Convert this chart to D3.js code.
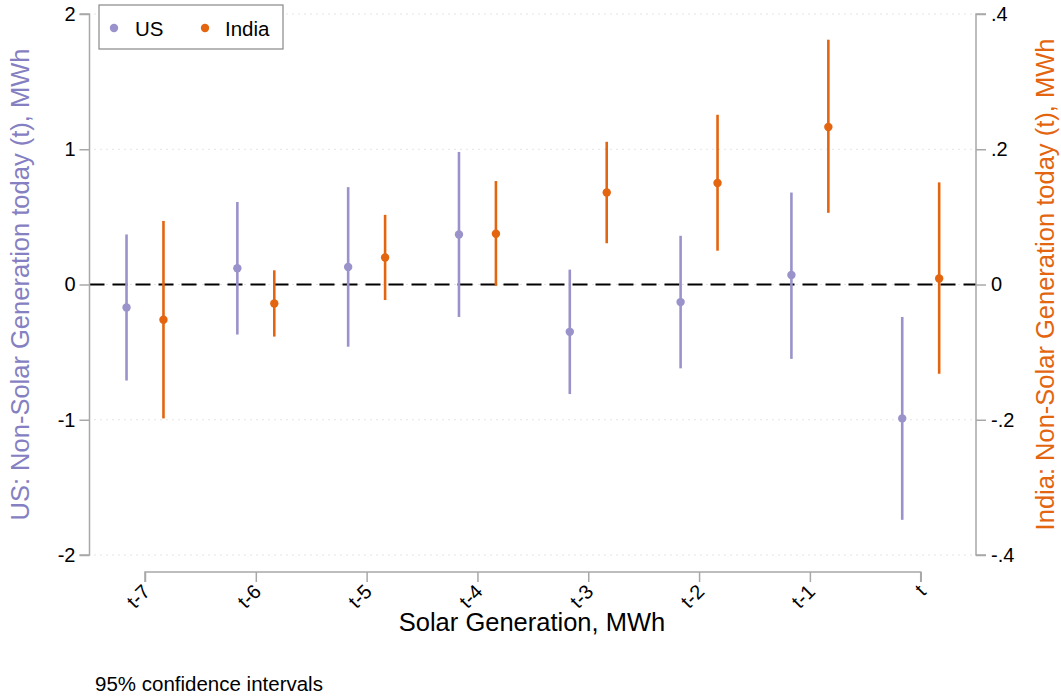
<!DOCTYPE html>
<html>
<head>
<meta charset="utf-8">
<script src="https://cdn.jsdelivr.net/npm/d3@7"></script>
<style>
  html, body { margin: 0; padding: 0; background: #fff; }
  svg { display: block; font-family: "Liberation Sans", Arial, Helvetica, sans-serif; }
</style>
</head>
<body>
<svg id="chart" width="1061" height="696"></svg>
<script>
// ---- data ----
const categories = ["t-7", "t-6", "t-5", "t-4", "t-3", "t-2", "t-1", "t"];
const usEstimate = [-0.17, 0.12, 0.13, 0.37, -0.35, -0.13, 0.07, -0.99];
const usLower    = [-0.71, -0.37, -0.46, -0.24, -0.81, -0.62, -0.55, -1.74];
const usUpper    = [0.37, 0.61, 0.72, 0.98, 0.11, 0.36, 0.68, -0.24];
const indiaEstimate = [-0.052, -0.028, 0.040, 0.075, 0.136, 0.150, 0.233, 0.009];
const indiaLower    = [-0.198, -0.077, -0.023, -0.002, 0.061, 0.050, 0.106, -0.132];
const indiaUpper    = [0.094, 0.021, 0.103, 0.153, 0.211, 0.251, 0.362, 0.151];
const leftTicks  = [2, 1, 0, -1, -2];
const leftTickLabels = ["2", "1", "0", "-1", "-2"];
const rightTicks = [0.4, 0.2, 0, -0.2, -0.4];
const rightTickLabels = [".4", ".2", "0", "-.2", "-.4"];

const usColor = "#9a93cb";
const usTitleColor = "#8580c2";
const indiaColor = "#e36510";
const axisColor = "#a8a8a8";

const svg = d3.select("#chart");

const plotLeft = 89.5, plotRight = 976, plotTop = 14, plotBottom = 555;
const yL = d3.scaleLinear().domain([-2, 2]).range([plotBottom, plotTop]);
const yR = d3.scaleLinear().domain([-0.4, 0.4]).range([plotBottom, plotTop]);
const x = d3.scalePoint().domain(categories).range([145, 920.7]);
const off = x.step() / 6;

// grid lines (dotted)
svg.append("g").selectAll("line").data(leftTicks).join("line")
  .attr("x1", plotLeft + 5).attr("x2", plotRight)
  .attr("y1", d => yL(d)).attr("y2", d => yL(d))
  .attr("stroke", "#c8c8c8").attr("stroke-width", 1)
  .attr("stroke-dasharray", "1,5");

// zero reference line
svg.append("line")
  .attr("x1", plotLeft).attr("x2", plotRight)
  .attr("y1", yL(0)).attr("y2", yL(0))
  .attr("stroke", "#000").attr("stroke-width", 2)
  .attr("stroke-dasharray", "15,8");

// left axis
const leftAxis = svg.append("g").attr("transform", `translate(${plotLeft},0)`)
  .call(d3.axisLeft(yL).tickValues(leftTicks).tickSize(10).tickPadding(4)
    .tickFormat((d, i) => leftTickLabels[i]));
// right axis
const rightAxis = svg.append("g").attr("transform", `translate(${plotRight},0)`)
  .call(d3.axisRight(yR).tickValues(rightTicks).tickSize(10).tickPadding(5)
    .tickFormat((d, i) => rightTickLabels[i]));
// bottom axis
const bottomAxis = svg.append("g").attr("transform", `translate(0,572)`)
  .call(d3.axisBottom(x).tickSize(10).tickPadding(4));

[leftAxis, rightAxis, bottomAxis].forEach(g => {
  g.attr("font-size", 20).attr("font-family", "Liberation Sans, Arial, sans-serif");
  g.select(".domain").attr("stroke", axisColor).attr("stroke-width", 1.5);
  g.selectAll(".tick line").attr("stroke", axisColor).attr("stroke-width", 1.5);
  g.selectAll(".tick text").attr("fill", "#000").attr("font-size", 20);
});
leftAxis.select(".domain").attr("d", `M-10,${plotTop}H0V${plotBottom}H-10`);
rightAxis.select(".domain").attr("d", `M10,${plotTop}H0V${plotBottom}H10`);
bottomAxis.select(".domain").attr("d", `M${x(categories[0])},10V0H${x(categories[categories.length-1])}V10`);
bottomAxis.selectAll(".tick text")
  .attr("text-anchor", "end")
  .attr("dy", "0.35em")
  .attr("transform", "translate(1,16) rotate(-45)")
  .attr("y", 0).attr("x", 0);

// CI lines and points
const us = categories.map((c, i) => ({c, est: usEstimate[i], lo: usLower[i], hi: usUpper[i]}));
const india = categories.map((c, i) => ({c, est: indiaEstimate[i], lo: indiaLower[i], hi: indiaUpper[i]}));

svg.append("g").selectAll("line").data(us).join("line")
  .attr("x1", d => x(d.c) - off).attr("x2", d => x(d.c) - off)
  .attr("y1", d => yL(d.lo)).attr("y2", d => yL(d.hi))
  .attr("stroke", usColor).attr("stroke-width", 2.6);
svg.append("g").selectAll("circle").data(us).join("circle")
  .attr("cx", d => x(d.c) - off).attr("cy", d => yL(d.est)).attr("r", 4.2)
  .attr("fill", usColor);

svg.append("g").selectAll("line").data(india).join("line")
  .attr("x1", d => x(d.c) + off).attr("x2", d => x(d.c) + off)
  .attr("y1", d => yR(d.lo)).attr("y2", d => yR(d.hi))
  .attr("stroke", indiaColor).attr("stroke-width", 2.6);
svg.append("g").selectAll("circle").data(india).join("circle")
  .attr("cx", d => x(d.c) + off).attr("cy", d => yR(d.est)).attr("r", 4.2)
  .attr("fill", indiaColor);

// axis titles
svg.append("text")
  .attr("transform", `translate(29,${(plotTop + plotBottom) / 2}) rotate(-90)`)
  .attr("text-anchor", "middle").attr("font-size", 25.5).attr("fill", usTitleColor)
  .text("US: Non-Solar Generation today (t), MWh");
svg.append("text")
  .attr("transform", `translate(1054,${(plotTop + plotBottom) / 2}) rotate(-90)`)
  .attr("text-anchor", "middle").attr("font-size", 25.5).attr("fill", indiaColor)
  .text("India: Non-Solar Generation today (t), MWh");
svg.append("text")
  .attr("x", 532).attr("y", 631)
  .attr("text-anchor", "middle").attr("font-size", 25.5).attr("fill", "#000")
  .text("Solar Generation, MWh");
svg.append("text")
  .attr("x", 95).attr("y", 691)
  .attr("font-size", 20.5).attr("fill", "#000")
  .text("95% confidence intervals");

// legend
const lg = svg.append("g");
lg.append("rect").attr("x", 99).attr("y", 5).attr("width", 184).attr("height", 44)
  .attr("fill", "#fff").attr("stroke", "#888").attr("stroke-width", 1.2);
const legendItems = [
  {label: "US", color: usColor, mx: 114, tx: 135},
  {label: "India", color: indiaColor, mx: 205, tx: 225}
];
legendItems.forEach(it => {
  lg.append("circle").attr("cx", it.mx).attr("cy", 28).attr("r", 4.2).attr("fill", it.color);
  lg.append("text").attr("x", it.tx).attr("y", 35.5).attr("font-size", 20.5)
    .attr("fill", "#000").text(it.label);
});
</script>
</body>
</html>
